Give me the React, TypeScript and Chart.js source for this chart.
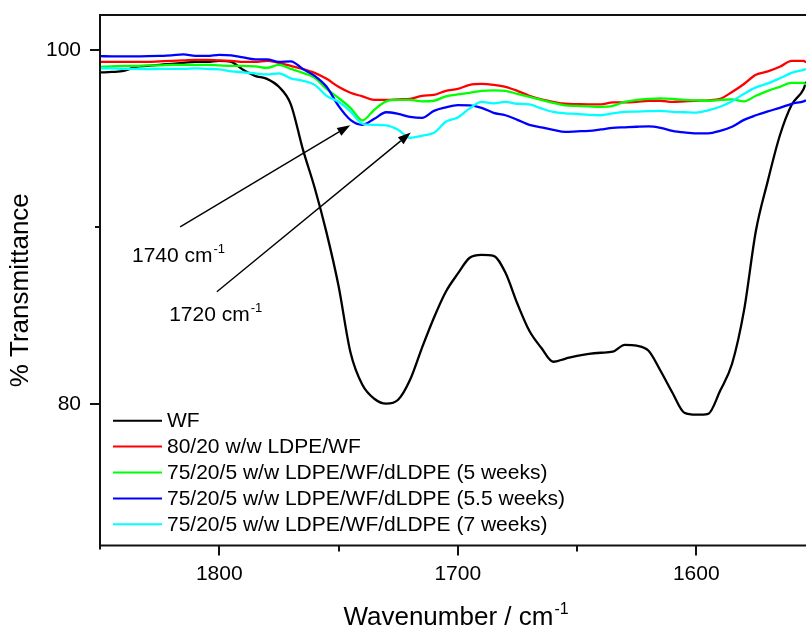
import React, { useEffect, useRef } from 'react';
import { Chart, registerables } from 'chart.js';

Chart.register(...registerables);

const FONT = "'Liberation Sans', Arial, Helvetica, sans-serif";

const wavenumbers = [
  1850, 1845, 1840, 1835, 1830, 1825, 1820, 1815, 1810, 1805, 1800,
  1795, 1790, 1785, 1780, 1775, 1770, 1765, 1760, 1755, 1750,
  1745, 1740, 1735, 1730, 1725, 1720, 1715, 1710, 1705, 1700,
  1695, 1690, 1685, 1680, 1675, 1670, 1665, 1660, 1655, 1650,
  1645, 1640, 1635, 1630, 1625, 1620, 1615, 1610, 1605, 1600,
  1595, 1590, 1585, 1580, 1575, 1570, 1565, 1560, 1555, 1554,
];

const wf = [
  98.75, 98.78, 98.84, 99.07, 99.12, 99.18, 99.24, 99.29, 99.35, 99.35, 99.41,
  99.35, 98.9, 98.56, 98.39, 97.94, 96.95, 94.43, 92.23, 89.68, 86.69,
  82.93, 81.09, 80.3, 80.02, 80.24, 81.37, 83.18, 84.88, 86.35, 87.37,
  88.27, 88.44, 88.38, 87.42, 85.67, 84.14, 83.18, 82.39, 82.56, 82.73,
  82.84, 82.9, 82.96, 83.35, 83.3, 83.01, 81.88, 80.64, 79.51, 79.4,
  79.45, 80.75, 82.28, 85.28, 89.8, 92.62, 95.17, 96.92, 97.82, 98.22,
];

const ldpeWf = [
  99.35, 99.35, 99.35, 99.35, 99.35, 99.38, 99.41, 99.43, 99.46, 99.46, 99.43,
  99.41, 99.35, 99.35, 99.41, 99.29, 99.12, 98.95, 98.73, 98.39, 97.94,
  97.6, 97.4, 97.2, 97.2, 97.23, 97.26, 97.43, 97.48, 97.71, 97.82,
  98.05, 98.1, 98.05, 97.94, 97.71, 97.43, 97.23, 97.09, 96.98, 96.96,
  96.95, 96.95, 97.06, 97.06, 97.09, 97.15, 97.15, 97.09, 97.12, 97.15,
  97.17, 97.26, 97.65, 98.1, 98.62, 98.81, 99.07, 99.41, 99.41, 99.32,
];

const weeks5 = [
  99.07, 99.1, 99.12, 99.12, 99.15, 99.15, 99.18, 99.18, 99.18, 99.18, 99.15,
  99.12, 99.12, 99.1, 99.01, 99.18, 98.95, 98.73, 98.45, 97.82, 97.31,
  96.75, 96.04, 96.64, 97.12, 97.2, 97.2, 97.12, 97.15, 97.4, 97.51,
  97.6, 97.71, 97.74, 97.71, 97.54, 97.37, 97.2, 97.03, 96.89, 96.86,
  96.83, 96.81, 96.86, 97.09, 97.2, 97.26, 97.29, 97.26, 97.2, 97.17,
  97.15, 97.2, 97.23, 97.12, 97.43, 97.71, 97.94, 98.16, 98.16, 98.05,
];

const weeks55 = [
  99.67, 99.66, 99.66, 99.66, 99.67, 99.69, 99.72, 99.77, 99.69, 99.69, 99.75,
  99.72, 99.6, 99.49, 99.49, 99.35, 99.38, 98.95, 98.56, 97.94, 96.86,
  96.07, 95.79, 96.13, 96.5, 96.41, 96.24, 96.18, 96.58, 96.78, 96.9,
  96.89, 96.75, 96.47, 96.33, 96.07, 95.79, 95.65, 95.51, 95.39, 95.42,
  95.45, 95.53, 95.62, 95.65, 95.68, 95.7, 95.62, 95.45, 95.36, 95.31,
  95.31, 95.45, 95.68, 96.07, 96.33, 96.55, 96.75, 96.98, 97.12, 97.18,
];

const weeks7 = [
  98.99, 98.98, 98.95, 98.95, 98.94, 98.95, 98.95, 98.95, 98.98, 98.95, 98.93,
  98.81, 98.76, 98.7, 98.64, 98.7, 98.42, 98.28, 98.05, 97.43, 97.09,
  96.55, 95.85, 95.79, 95.76, 95.51, 95.05, 95.17, 95.34, 95.96, 96.21,
  96.72, 97.09, 97.0, 97.09, 96.98, 96.95, 96.72, 96.52, 96.44, 96.41,
  96.35, 96.33, 96.44, 96.52, 96.54, 96.56, 96.58, 96.52, 96.5, 96.48,
  96.61, 96.81, 97.12, 97.54, 97.91, 98.13, 98.42, 98.73, 98.9, 98.94,
];

const seriesLabels = [
  'WF',
  '80/20 w/w LDPE/WF',
  '75/20/5 w/w LDPE/WF/dLDPE (5 weeks)',
  '75/20/5 w/w LDPE/WF/dLDPE (5.5 weeks)',
  '75/20/5 w/w LDPE/WF/dLDPE (7 weeks)',
];
const seriesValues = [wf, ldpeWf, weeks5, weeks55, weeks7];
const seriesColors = ['#000000', '#ff0000', '#00ff00', '#0000ff', '#00ffff'];

const xMajorTicks = [1800, 1700, 1600];
const xMinorTicks = [1750, 1650];
const yMajorTicks = [80, 100];
const yMinorTicks = [90];

const xTitle = 'Wavenumber / cm';
const yTitle = '% Transmittance';
const unitSup = '-1';

// annotation arrows, in data coordinates (wavenumber, %T)
const annotationTexts = ['1740 cm', '1720 cm'];
const arrowTails = [[1816.4, 90.02], [1801.0, 86.35]];
const arrowTips = [[1745.1, 95.77], [1719.7, 95.35]];
const labelAnchors = [[1836.6, 88.04], [1821.0, 84.71]];

function drawSupText(ctx: CanvasRenderingContext2D, x: number, y: number, main: string, sup: string, size: number) {
  ctx.font = `${size}px ${FONT}`;
  ctx.textBaseline = 'alphabetic';
  ctx.textAlign = 'left';
  ctx.fillText(main, x, y);
  const w = ctx.measureText(main).width;
  ctx.font = `${Math.round(size * 0.62)}px ${FONT}`;
  ctx.fillText(sup, x + w + 1, y - size * 0.42);
}

const framePlugin = {
  id: 'frame',
  afterDraw(chart: any) {
    const { ctx, chartArea: a, scales } = chart;
    const xs = scales.x;
    const ys = scales.y;
    ctx.save();
    ctx.strokeStyle = '#111';
    ctx.lineWidth = 2;
    ctx.beginPath();
    ctx.moveTo(a.left - 1, a.top);
    ctx.lineTo(a.right, a.top);
    ctx.moveTo(a.left, a.top);
    ctx.lineTo(a.left, a.bottom + 4);
    ctx.moveTo(a.left - 1, a.bottom);
    ctx.lineTo(a.right, a.bottom);
    for (const v of xMajorTicks) {
      const p = Math.round(xs.getPixelForValue(v));
      ctx.moveTo(p, a.bottom);
      ctx.lineTo(p, a.bottom + 10);
    }
    for (const v of xMinorTicks) {
      const p = Math.round(xs.getPixelForValue(v));
      ctx.moveTo(p, a.bottom);
      ctx.lineTo(p, a.bottom + 6);
    }
    for (const v of yMajorTicks) {
      const p = Math.round(ys.getPixelForValue(v));
      ctx.moveTo(a.left, p);
      ctx.lineTo(a.left - 10, p);
    }
    for (const v of yMinorTicks) {
      const p = Math.round(ys.getPixelForValue(v));
      ctx.moveTo(a.left, p);
      ctx.lineTo(a.left - 5, p);
    }
    ctx.stroke();

    // axis titles
    ctx.fillStyle = '#000';
    const size = 26;
    ctx.font = `${size}px ${FONT}`;
    const mw = ctx.measureText(xTitle).width;
    ctx.font = `${Math.round(size * 0.62)}px ${FONT}`;
    const sw = ctx.measureText(unitSup).width;
    const cx = (a.left + a.right) / 2 + 3;
    drawSupText(ctx, cx - (mw + sw + 1) / 2, 625, xTitle, unitSup, size);

    ctx.save();
    ctx.translate(21, (a.top + a.bottom) / 2 + 10);
    ctx.rotate(-Math.PI / 2);
    ctx.font = `${size}px ${FONT}`;
    ctx.textAlign = 'center';
    ctx.textBaseline = 'middle';
    ctx.fillText(yTitle, 0, 0);
    ctx.restore();

    // legend
    chart.data.datasets.forEach((ds: any, i: number) => {
      const yy = a.bottom - 124.8 + i * 25.9;
      ctx.strokeStyle = ds.borderColor;
      ctx.lineWidth = 2;
      ctx.beginPath();
      ctx.moveTo(a.left + 13, yy);
      ctx.lineTo(a.left + 62, yy);
      ctx.stroke();
      ctx.fillStyle = '#000';
      ctx.font = `21px ${FONT}`;
      ctx.textAlign = 'left';
      ctx.textBaseline = 'middle';
      ctx.fillText(ds.label, a.left + 67, yy + 1);
    });

    // annotations
    annotationTexts.forEach((txt, i) => {
      const tx = xs.getPixelForValue(arrowTails[i][0]);
      const ty = ys.getPixelForValue(arrowTails[i][1]);
      const hx = xs.getPixelForValue(arrowTips[i][0]);
      const hy = ys.getPixelForValue(arrowTips[i][1]);
      const ang = Math.atan2(hy - ty, hx - tx);
      const len = 13;
      const half = 4.5;
      const bx = hx - len * Math.cos(ang);
      const by = hy - len * Math.sin(ang);
      ctx.strokeStyle = '#000';
      ctx.lineWidth = 1.4;
      ctx.beginPath();
      ctx.moveTo(tx, ty);
      ctx.lineTo(bx, by);
      ctx.stroke();
      ctx.fillStyle = '#000';
      ctx.beginPath();
      ctx.moveTo(hx, hy);
      ctx.lineTo(bx + half * Math.sin(ang), by - half * Math.cos(ang));
      ctx.lineTo(bx - half * Math.sin(ang), by + half * Math.cos(ang));
      ctx.closePath();
      ctx.fill();
      const lx = xs.getPixelForValue(labelAnchors[i][0]);
      const ly = ys.getPixelForValue(labelAnchors[i][1]);
      drawSupText(ctx, lx, ly, txt, unitSup, 21);
    });
    ctx.restore();
  },
};

export default function App() {
  const ref = useRef<HTMLCanvasElement | null>(null);
  useEffect(() => {
    if (!ref.current) return;
    Chart.defaults.font.family = FONT;
    const order = [5, 4, 3, 2, 1];
    const chart = new Chart(ref.current, {
      type: 'line',
      data: {
        datasets: seriesLabels.map((label, i) => ({
          label,
          data: wavenumbers.map((x, j) => ({ x, y: seriesValues[i][j] })),
          borderColor: seriesColors[i],
          backgroundColor: seriesColors[i],
          borderWidth: 2.3,
          pointRadius: 0,
          fill: false,
          cubicInterpolationMode: 'monotone' as const,
          order: order[i],
        })),
      },
      options: {
        responsive: false,
        animation: false,
        layout: { padding: { top: 15, left: 0, right: 0, bottom: 0 } },
        plugins: { legend: { display: false }, tooltip: { enabled: false } },
        scales: {
          x: {
            type: 'linear',
            reverse: true,
            min: 1554,
            max: 1850,
            grid: { display: false, drawTicks: false },
            border: { display: false },
            afterBuildTicks: (s: any) => {
              s.ticks = xMajorTicks.map((v) => ({ value: v }));
            },
            afterFit: (s: any) => {
              s.height = 82.5;
              s.paddingLeft = 0;
              s.paddingRight = 0;
            },
            ticks: {
              color: '#000',
              font: { size: 21, family: FONT },
              padding: 16,
              maxRotation: 0,
              autoSkip: false,
              callback: (v: any) => String(v),
            },
          },
          y: {
            type: 'linear',
            min: 72,
            max: 102,
            grid: { display: false, drawTicks: false },
            border: { display: false },
            afterBuildTicks: (s: any) => {
              s.ticks = yMajorTicks.map((v) => ({ value: v }));
            },
            afterFit: (s: any) => {
              s.width = 100;
              s.paddingTop = 0;
              s.paddingBottom = 0;
            },
            ticks: {
              color: '#000',
              font: { size: 21, family: FONT },
              padding: 19,
              callback: (v: any) => String(v),
            },
          },
        },
      },
      plugins: [framePlugin],
    });
    return () => chart.destroy();
  }, []);
  return (
    <div style={{ position: 'fixed', left: 0, top: 0, width: 806, height: 628, background: '#fff' }}>
      <canvas ref={ref} width={806} height={628} style={{ display: 'block' }} />
    </div>
  );
}
